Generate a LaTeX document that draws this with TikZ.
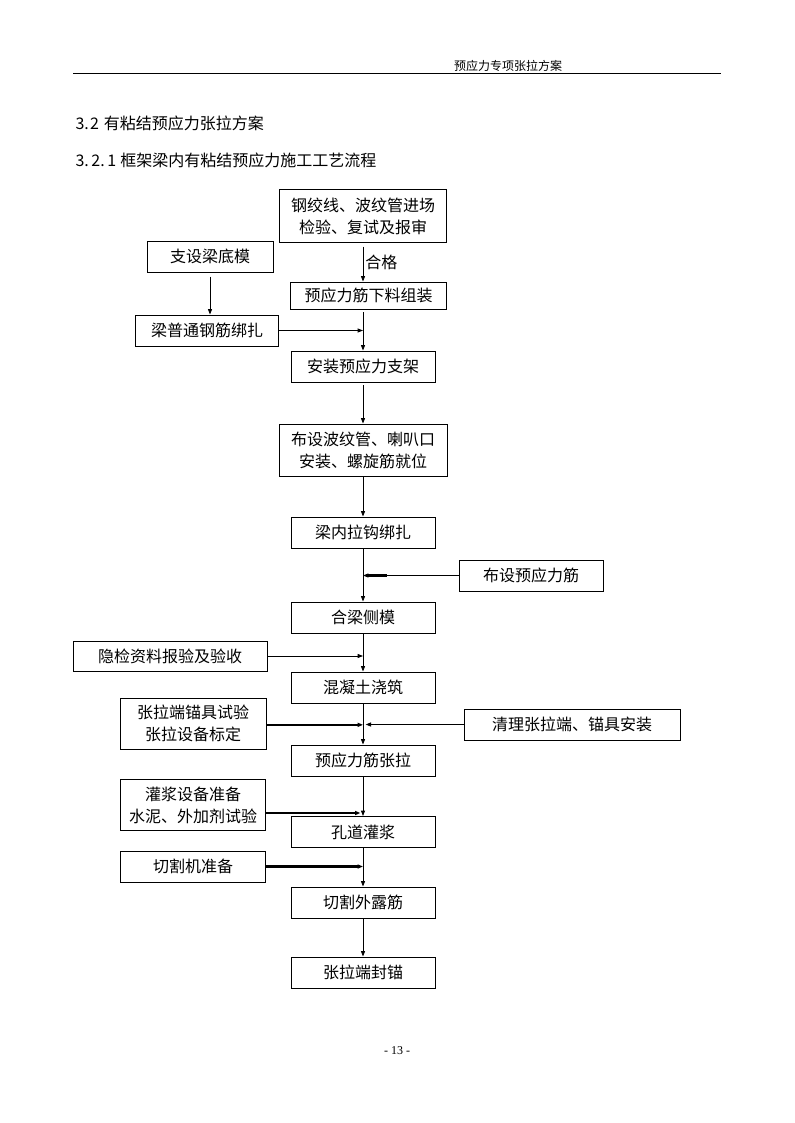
\documentclass[tikz,border=0pt]{standalone}
\usepackage{fontspec}
\setmainfont{Liberation Serif}
\newfontfamily\cjk{Noto Sans CJK SC}
\usetikzlibrary{arrows.meta,positioning}

\tikzset{every picture/.style={line width=0.75pt}}
\tikzset{
  sz/.style 2 args={minimum width=#1*0.75pt, minimum height=#2*0.75pt},
  stepbox/.style={draw, line width=0.75pt, inner sep=0pt, align=center,
    font=\cjk\fontsize{12}{16.5}\selectfont},
  flow/.style={-{Triangle[length=4pt,width=3pt]}, line width=0.6pt},
  heavy/.style={flow, line width=1.6pt},
}

\begin{document}
\begin{tikzpicture}[x=0.75pt,y=0.75pt,yscale=-1,xscale=1]
            \useasboundingbox (0,0) rectangle (794,1123);

            % Header
            \node[font=\cjk\fontsize{9}{11}\selectfont] (hdr) at (508,66) {预应力专项张拉方案};
            \draw (73,74) -- (721,74);
            % Section titles
            \node[anchor=west, inner sep=0pt, font=\cjk\fontsize{12}{14}\selectfont] (sec) at (75,123) {3.\kern1pt 2\kern1pt\ 有粘结预应力张拉方案};
            \node[anchor=west, inner sep=0pt, font=\cjk\fontsize{12}{14}\selectfont] (subsec) at (75,160) {3.\kern2pt 2.\kern2pt 1\kern3pt 框架梁内有粘结预应力施工工艺流程};

            % Process boxes
            \node[stepbox, sz={167}{52}] (inspect) at (363,216) {钢绞线、波纹管进场\\检验、复试及报审};
            \node[stepbox, sz={126}{31}] (bottomform) at (210,256.5) {支设梁底模};
            \node[stepbox, sz={156}{27}] (cutting) at (368.5,295.5) {预应力筋下料组装};
            \node[stepbox, sz={143}{31}] (rebar) at (207,330.5) {梁普通钢筋绑扎};
            \node[stepbox, sz={144}{31}] (support) at (363,366.5) {安装预应力支架};
            \node[stepbox, sz={168}{52}] (duct) at (363,450) {布设波纹管、喇叭口\\安装、螺旋筋就位};
            \node[stepbox, sz={144}{31}] (hook) at (363,532.5) {梁内拉钩绑扎};
            \node[stepbox, sz={144}{31}] (strand) at (531,575.5) {布设预应力筋};
            \node[stepbox, sz={144}{31}] (sideform) at (363,617.5) {合梁侧模};
            \node[stepbox, sz={194}{30}] (check) at (170,656) {隐检资料报验及验收};
            \node[stepbox, sz={144}{31}] (pour) at (363,687.5) {混凝土浇筑};
            \node[stepbox, sz={146}{51}] (calib) at (193,723.5) {张拉端锚具试验\\张拉设备标定};
            \node[stepbox, sz={216}{31}] (anchor) at (572,724.5) {清理张拉端、锚具安装};
            \node[stepbox, sz={144}{31}] (tension) at (363,760.5) {预应力筋张拉};
            \node[stepbox, sz={145}{51}] (groutprep) at (193,805) {灌浆设备准备\\水泥、外加剂试验};
            \node[stepbox, sz={144}{31}] (grout) at (363,832) {孔道灌浆};
            \node[stepbox, sz={145}{31}] (cutter) at (193,866.5) {切割机准备};
            \node[stepbox, sz={144}{31}] (trim) at (363,902.5) {切割外露筋};
            \node[stepbox, sz={144}{31}] (seal) at (363,972.5) {张拉端封锚};

            % Connectors
            \draw[flow, shorten <=3pt] (inspect.south) -- (inspect.south |- cutting.north)
              node[midway, anchor=west, inner sep=1.5pt, font=\cjk\fontsize{12}{14}\selectfont] {合格};
            \draw[flow, shorten <=3pt] (bottomform.south) -- (bottomform.south |- rebar.north);
            \draw[flow] (rebar.east) -- (rebar.east -| support.north);
            \draw[flow, shorten <=2pt] (cutting.south -| support.north) -- (support.north);
            \draw[flow, shorten <=2pt] (support.south) -- (duct.north);
            \draw[flow] (duct.south) -- (hook.north);
            \draw[flow] (hook.south) -- (sideform.north);
            \draw[flow] (strand.west) -- (strand.west -| hook.south);
            \draw[line width=1.6pt] ([xshift=2.5pt]strand.west -| hook.south) -- ([xshift=18pt]strand.west -| hook.south);
            \draw[flow] (sideform.south) -- (pour.north);
            \draw[flow] (check.east) -- (check.east -| pour.north);
            \draw[flow] (pour.south) -- (tension.north);
            \draw[heavy] ([yshift=1pt]calib.east) -- ([yshift=1pt]calib.east -| tension.north);
            \draw[flow] (anchor.west) -- ([xshift=2pt]anchor.west -| tension.north);
            \draw[flow] (tension.south) -- (grout.north);
            \draw[heavy] ([yshift=6pt]groutprep.east) -- ([yshift=6pt,xshift=-2pt]groutprep.east -| grout.north);
            \draw[flow] (grout.south) -- (trim.north);
            \draw[heavy] (cutter.east) -- (cutter.east -| trim.north);
            \draw[flow] (trim.south) -- (seal.north);

            % Page number
            \node[font=\fontsize{9}{11}\selectfont] (pageno) at (397,1051) {- 13 -};

\end{tikzpicture}
\end{document}
